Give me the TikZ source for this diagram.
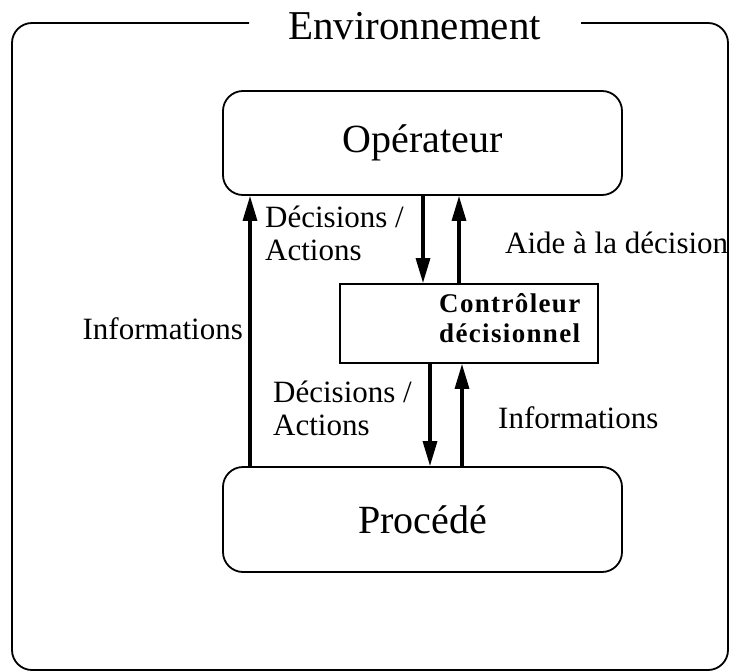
\documentclass[tikz,border=0pt]{standalone}
\usepackage{fontspec}
\setmainfont{Liberation Serif}
\usetikzlibrary{arrows.meta}
\begin{document}
\begin{tikzpicture}[x=1pt,y=-1pt,
  boxline/.style={line width=1.8pt},
  rbox/.style={draw,boxline,rounded corners=20pt,inner sep=0pt,minimum width=399pt,font=\fontsize{40}{48}\selectfont},
  arr/.style={line width=3.2pt,-{Triangle[length=25pt,width=14pt]}},
  lbl/.style={inner sep=0pt,font=\fontsize{31}{33}\selectfont,align=left}]
\useasboundingbox (0,0) rectangle (729,672);
% frame
\draw[boxline,rounded corners=20pt] (249,23) -- (12,23) -- (12,670) -- (728,670) -- (728,23) -- (581,23);
\node[inner sep=0pt,anchor=base west,font=\fontsize{41}{48}\selectfont] (env) at (288,39) {Environnement};
% boxes
\node[rbox,minimum height=104pt] (op) at (422.5,143) {Opérateur};
\node[rbox,minimum height=105pt] (proc) at (422.5,519.5) {Procédé};
\node[draw,boxline,inner sep=0pt,minimum width=258pt,minimum height=79pt] (ctrl) at (469,323.5) {};
\node[inner sep=0pt,anchor=base west,align=left,font=\fontsize{27}{30}\selectfont\bfseries\addfontfeatures{LetterSpace=5}] (ctxt) at (439,342) {Contrôleur\\décisionnel};
% arrow columns
\coordinate (xa) at (250,0);
\coordinate (xb) at (423,0);
\coordinate (xc) at (459,0);
\coordinate (xd) at (430,0);
\coordinate (xe) at (462,0);
\draw[arr] (xa |- proc.north) -- (xa |- op.south);
\draw[arr] (xb |- op.south) -- (xb |- ctrl.north);
\draw[arr] (xc |- ctrl.north) -- (xc |- op.south);
\draw[arr] (xd |- ctrl.south) -- (xd |- proc.north);
\draw[arr] (xe |- proc.north) -- (xe |- ctrl.south);
% labels
\node[lbl,anchor=base west] (l1) at (265,260) {Décisions /\\Actions};
\node[lbl,anchor=base west] (l2) at (273,435) {Décisions /\\Actions};
\node[lbl,anchor=base west] (l3) at (505,253) {Aide à la décision};
\node[lbl,anchor=base east] (l4) at (243,339) {Informations};
\node[lbl,anchor=base west] (l5) at (498,428) {Informations};
\end{tikzpicture}
\end{document}
